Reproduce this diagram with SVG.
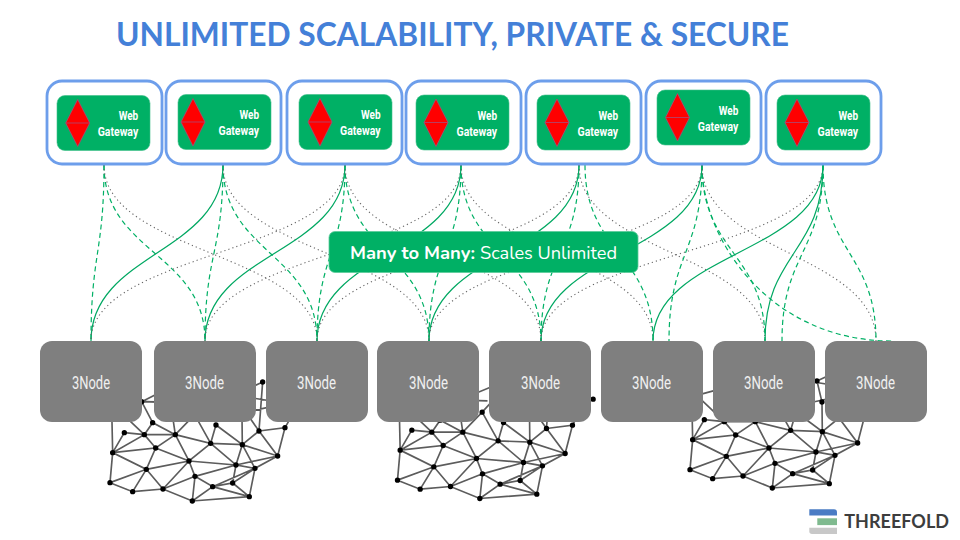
<svg xmlns="http://www.w3.org/2000/svg" width="960" height="540" viewBox="0 0 960 540">
<style>
.title{font:700 32px "Lato","Liberation Sans",sans-serif;fill:#4480d8}
.outer{fill:#fff;stroke:#6d9eeb;stroke-width:2.8}
.inner{fill:#00b065;stroke:#3fc08a;stroke-width:.6}
.dia{fill:#f00;stroke:#a64d79;stroke-width:.8}
.gw{font:700 13.5px "Roboto","Liberation Sans",sans-serif;fill:#fff}
.node{fill:#7f7f7f}
.nt{font:400 19px "Roboto","Liberation Sans",sans-serif;fill:#f0f0f0}
.solid,.dash,.dot{fill:none}
.solid{stroke:#00a862;stroke-width:1.2}
.dash{stroke:#00b065;stroke-width:1.2;stroke-dasharray:5 3.5}
.dot{stroke:#666;stroke-width:1.1;stroke-dasharray:1.2 3}
.lab{fill:#00b065;stroke:#5ccb9b;stroke-width:.8}
.lt{font:400 18px "Nunito","Noto Sans",sans-serif;fill:#fff}
.lb{font:700 18px "Nunito","Noto Sans",sans-serif;fill:#fff}
.edge{fill:none;stroke:#5c5c5c;stroke-width:5}
.pt{fill:none;stroke:#000;stroke-width:16;stroke-linecap:round}
.logo{font:700 19px "Lato","Liberation Sans",sans-serif;fill:#3d3d3d}
</style>
<defs>
<g id="mesh">
<path class="edge" d="M150 338L218 365L309 357L397 393L568 380M150 338L259 298L218 365M259 298L309 357M150 338L158 248L259 298L287 234L158 248L253 194L193 188L158 248M193 188L253 194L346 194L287 234L253 194M259 298L387 273L287 234M346 194L387 273L452 220L346 194L278 158L253 194M278 158L245 95M452 220L528 285L387 273M452 220L547 224L468 165L452 220M547 224L597 183L653 258L547 224L528 285M547 224L585 295L653 258L528 285M597 183L675 173L653 258M585 295L568 380M387 273L309 357L405 319L528 285M387 273L405 319L397 393M405 319L458 350L397 393M458 350L568 380M458 350L518 339L568 380M518 339L585 295L528 285L518 339M458 350L585 295M158 248L155 110M547 224L546 135L531 72L608 36L597 183M346 194L404 134L452 220M346 194L335 120M404 134L500 30M245 95L340 96L500 30M245 95L420 100M245 95L310 62M170 115L245 95M170 115L253 194M597 183L560 130M675 173L700 130M520 135L680 100M520 75L680 100L737 95"/>
<path class="pt" d="M608 36h0M245 95h0M278 158h0M193 188h0M253 194h0M346 194h0M468 165h0M597 183h0M675 173h0M452 220h0M547 224h0M158 248h0M287 234h0M653 258h0M387 273h0M528 285h0M585 295h0M259 298h0M405 319h0M518 339h0M458 350h0M150 338h0M218 365h0M309 357h0M397 393h0M568 380h0M404 134h0M531 72h0M546 135h0M737 95h0"/>
</g>
</defs>
<rect width="960" height="540" fill="#fff"/>
<text class="title" x="116" y="46" textLength="673" lengthAdjust="spacingAndGlyphs">UNLIMITED SCALABILITY, PRIVATE &amp; SECURE</text>
<g id="meshes">
<use href="#mesh" transform="translate(60 370) scale(.3333)"/>
<use href="#mesh" transform="translate(347.5 367.5) scale(.3333)"/>
<use href="#mesh" transform="translate(640 357) scale(.3333)"/>
</g>
<g id="connectors">
<path class="dash" d="M104 165C104 253 91 253 91 341"/>
<path class="dash" d="M104 165C104 253 205 253 205 341"/>
<path class="dot" d="M104 165C104 253 317 253 317 341"/>
<path class="solid" d="M223 165C223 253 91 253 91 341"/>
<path class="dash" d="M223 165C223 253 205 253 205 341"/>
<path class="dash" d="M223 165C223 253 317 253 317 341"/>
<path class="dot" d="M223 165C223 253 429 253 429 341"/>
<path class="dot" d="M345 165C345 253 91 253 91 341"/>
<path class="solid" d="M345 165C345 253 205 253 205 341"/>
<path class="dash" d="M345 165C345 253 317 253 317 341"/>
<path class="dash" d="M345 165C345 253 429 253 429 341"/>
<path class="dot" d="M345 165C345 253 541 253 541 341"/>
<path class="dot" d="M461 165C461 253 205 253 205 341"/>
<path class="solid" d="M461 165C461 253 317 253 317 341"/>
<path class="dash" d="M461 165C461 253 429 253 429 341"/>
<path class="dash" d="M461 165C461 253 541 253 541 341"/>
<path class="dot" d="M461 165C461 253 653 253 653 341"/>
<path class="dot" d="M579 165C579 253 317 253 317 341"/>
<path class="solid" d="M579 165C579 253 429 253 429 341"/>
<path class="dash" d="M579 165C579 253 541 253 541 341"/>
<path class="dash" d="M585 165C585 253 653 253 653 341"/>
<path class="dot" d="M579 165C579 253 765 253 765 341"/>
<path class="dot" d="M702 165C702 253 429 253 429 341"/>
<path class="solid" d="M702 165C702 253 541 253 541 341"/>
<path class="dash" d="M702 165C702 253 669 253 669 341"/>
<path class="dash" d="M702 165C702 253 765 253 765 341"/>
<path class="dash" d="M702 165C702 240 770 341 892 341"/>
<path class="dot" d="M702 165C702 253 876 253 876 341"/>
<path class="dot" d="M823 165C823 253 541 253 541 341"/>
<path class="solid" d="M823 165C823 253 653 253 653 341"/>
<path class="solid" d="M823 165C823 253 765 253 765 341"/>
<path class="dash" d="M823 165C823 253 782 253 782 341"/>
<path class="dash" d="M823 165C823 253 876 253 876 341"/>
</g>
<g id="gw1"><rect class="outer" x="47" y="81" width="115" height="83" rx="15"/><rect class="inner" x="57" y="95.5" width="93" height="55" rx="8"/><path class="dia" d="M77.7 99.5L89.7 123L77.7 146.5L65.7 123ZM65.7 123H89.7"/><text class="gw" x="118.7" y="120" textLength="19.5" lengthAdjust="spacingAndGlyphs">Web</text><text class="gw" x="97.7" y="136" textLength="40.5" lengthAdjust="spacingAndGlyphs">Gateway</text></g>
<g id="gw2"><rect class="outer" x="166" y="81" width="115" height="83" rx="15"/><rect class="inner" x="178" y="94.5" width="93" height="55" rx="8"/><path class="dia" d="M193 98.5L205 122L193 146L181 122ZM181 122H205"/><text class="gw" x="239.5" y="119" textLength="19.5" lengthAdjust="spacingAndGlyphs">Web</text><text class="gw" x="218.5" y="135" textLength="40.5" lengthAdjust="spacingAndGlyphs">Gateway</text></g>
<g id="gw3"><rect class="outer" x="287" y="81" width="115" height="83" rx="15"/><rect class="inner" x="299" y="94.5" width="93" height="55" rx="8"/><path class="dia" d="M320 98.5L332 122L320 146L308 122ZM308 122H332"/><text class="gw" x="361" y="119" textLength="19.5" lengthAdjust="spacingAndGlyphs">Web</text><text class="gw" x="340" y="135" textLength="40.5" lengthAdjust="spacingAndGlyphs">Gateway</text></g>
<g id="gw4"><rect class="outer" x="406" y="81" width="115" height="83" rx="15"/><rect class="inner" x="416" y="95" width="93" height="55" rx="8"/><path class="dia" d="M436 99L448 122.5L436 146.5L424 122.5ZM424 122.5H448"/><text class="gw" x="477.5" y="119.5" textLength="19.5" lengthAdjust="spacingAndGlyphs">Web</text><text class="gw" x="456.5" y="135.5" textLength="40.5" lengthAdjust="spacingAndGlyphs">Gateway</text></g>
<g id="gw5"><rect class="outer" x="526" y="81" width="115" height="83" rx="15"/><rect class="inner" x="537" y="95" width="93" height="55" rx="8"/><path class="dia" d="M557 99L569 122.5L557 146.5L545 122.5ZM545 122.5H569"/><text class="gw" x="598.5" y="119.5" textLength="19.5" lengthAdjust="spacingAndGlyphs">Web</text><text class="gw" x="577.5" y="135.5" textLength="40.5" lengthAdjust="spacingAndGlyphs">Gateway</text></g>
<g id="gw6"><rect class="outer" x="646" y="81" width="115" height="83" rx="15"/><rect class="inner" x="657" y="90" width="93" height="55" rx="8"/><path class="dia" d="M677.5 93.5L689.5 117.5L677.5 141L665.5 117.5ZM665.5 117.5H689.5"/><text class="gw" x="718.8" y="114.5" textLength="19.5" lengthAdjust="spacingAndGlyphs">Web</text><text class="gw" x="697.8" y="130.5" textLength="40.5" lengthAdjust="spacingAndGlyphs">Gateway</text></g>
<g id="gw7"><rect class="outer" x="766" y="81" width="115" height="83" rx="15"/><rect class="inner" x="777" y="95" width="93" height="55" rx="8"/><path class="dia" d="M797 99L809 122.5L797 146.5L785 122.5ZM785 122.5H809"/><text class="gw" x="838.5" y="119.5" textLength="19.5" lengthAdjust="spacingAndGlyphs">Web</text><text class="gw" x="817.5" y="135.5" textLength="40.5" lengthAdjust="spacingAndGlyphs">Gateway</text></g>
<g id="label"><rect class="lab" x="329" y="231.5" width="309" height="41" rx="6"/><text class="lb" x="350" y="259" textLength="125" lengthAdjust="spacingAndGlyphs">Many to Many:</text><text class="lt" x="480" y="259" textLength="137" lengthAdjust="spacingAndGlyphs">Scales Unlimited</text></g>
<g id="n1"><rect class="node" x="40" y="341" width="102" height="81" rx="12"/><text class="nt" x="72" y="389" textLength="38" lengthAdjust="spacingAndGlyphs">3Node</text></g>
<g id="n2"><rect class="node" x="154" y="341" width="102" height="81" rx="12"/><text class="nt" x="185" y="389" textLength="39" lengthAdjust="spacingAndGlyphs">3Node</text></g>
<g id="n3"><rect class="node" x="266" y="341" width="102" height="81" rx="12"/><text class="nt" x="297" y="389" textLength="39" lengthAdjust="spacingAndGlyphs">3Node</text></g>
<g id="n4"><rect class="node" x="377" y="341" width="102" height="81" rx="12"/><text class="nt" x="409" y="389" textLength="39" lengthAdjust="spacingAndGlyphs">3Node</text></g>
<g id="n5"><rect class="node" x="489" y="341" width="102" height="81" rx="12"/><text class="nt" x="521" y="389" textLength="39" lengthAdjust="spacingAndGlyphs">3Node</text></g>
<g id="n6"><rect class="node" x="601" y="341" width="102" height="81" rx="12"/><text class="nt" x="632" y="389" textLength="39" lengthAdjust="spacingAndGlyphs">3Node</text></g>
<g id="n7"><rect class="node" x="713" y="341" width="102" height="81" rx="12"/><text class="nt" x="744" y="389" textLength="39" lengthAdjust="spacingAndGlyphs">3Node</text></g>
<g id="n8"><rect class="node" x="825" y="341" width="102" height="81" rx="12"/><text class="nt" x="856" y="389" textLength="39" lengthAdjust="spacingAndGlyphs">3Node</text></g>
<g id="logo">
<path fill="#4a7cc4" d="M809.3 509.3H834a3 3 0 0 1 3 3V515.5H809.3Z"/>
<rect fill="#7fba8f" x="817.3" y="518.3" width="19.7" height="6.8"/>
<path fill="#c8c8c8" d="M809.3 527.8H837V534H812a2.7 2.7 0 0 1-2.7-2.7Z"/>
<text class="logo" x="844.3" y="528.3" textLength="104.7" lengthAdjust="spacingAndGlyphs">THREEFOLD</text>
</g>
</svg>
